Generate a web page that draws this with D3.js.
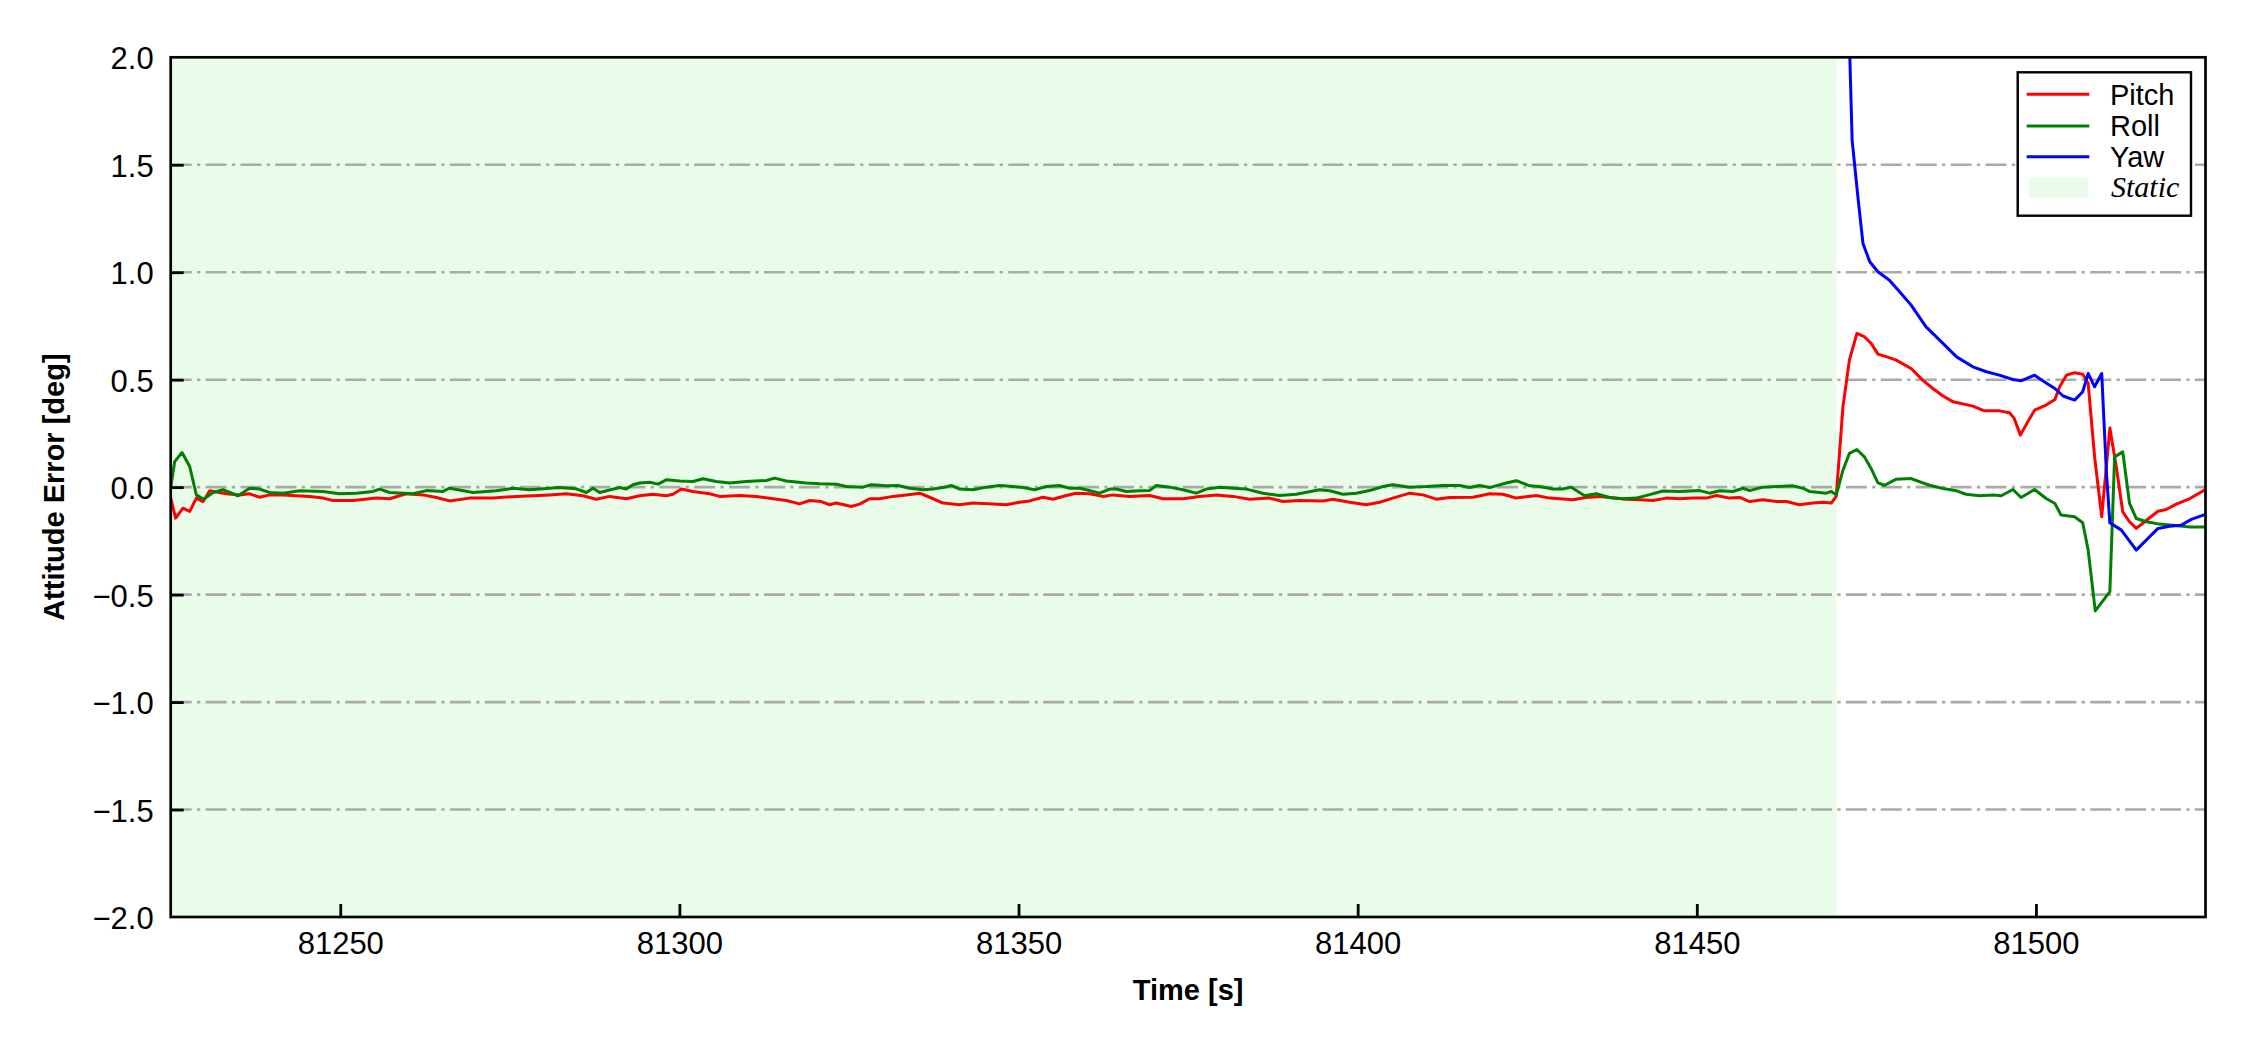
<!DOCTYPE html>
<html>
<head>
<meta charset="utf-8">
<script src="https://d3js.org/d3.v7.min.js"></script>
<style>
  body { margin: 0; background: #fff; }
  svg { display: block; }
</style>
</head>
<body>
<div id="chart"></div>
<script>
// time axis / value axis
var xDomain = [81225, 81525];
var yDomain = [-2, 2];
var xTicks = [81250, 81300, 81350, 81400, 81450, 81500];
var yTicks = [-2.0, -1.5, -1.0, -0.5, 0.0, 0.5, 1.0, 1.5, 2.0];
var gridValues = [-1.5, -1.0, -0.5, 0.0, 0.5, 1.0, 1.5];
var staticSpan = [81225, 81470.6];

var seriesNames = ["Pitch", "Roll", "Yaw"];
var seriesColors = ["#ff0000", "#008000", "#0000ff"];

// [time s, error deg]
var pitchData = [
  [81225.0,-0.051],[81225.73,-0.144],[81226.81,-0.098],[81227.8,-0.113],[81228.78,-0.051],[81229.76,-0.068],
  [81230.75,-0.017],[81233.2,-0.031],[81235.17,-0.036],[81236.64,-0.031],[81238.12,-0.047],[81239.59,-0.036],
  [81241.56,-0.036],[81243.52,-0.040],[81245.49,-0.043],[81247.45,-0.051],[81248.93,-0.062],[81251.88,-0.062],
  [81255.32,-0.051],[81257.28,-0.054],[81259.74,-0.031],[81262.19,-0.036],[81264.16,-0.048],[81266.13,-0.064],
  [81269.07,-0.051],[81272.51,-0.051],[81275.95,-0.043],[81280.87,-0.036],[81283.33,-0.031],[81285.78,-0.040],
  [81287.75,-0.056],[81289.71,-0.043],[81292.17,-0.054],[81294.14,-0.040],[81296.1,-0.033],[81298.07,-0.040],
  [81299.05,-0.033],[81300.28,-0.009],[81302.0,-0.020],[81304.46,-0.031],[81305.93,-0.043],[81308.88,-0.039],
  [81311.34,-0.043],[81313.8,-0.054],[81315.76,-0.062],[81317.73,-0.078],[81319.2,-0.062],[81320.92,-0.067],
  [81322.15,-0.082],[81323.13,-0.074],[81325.34,-0.090],[81326.57,-0.079],[81328.05,-0.054],[81329.52,-0.054],
  [81331.49,-0.043],[81333.45,-0.036],[81335.42,-0.028],[81336.89,-0.047],[81338.86,-0.074],[81341.31,-0.082],
  [81343.28,-0.074],[81346.23,-0.078],[81348.19,-0.082],[81350.16,-0.070],[81351.63,-0.064],[81353.6,-0.047],
  [81355.07,-0.056],[81357.04,-0.039],[81358.51,-0.028],[81360.48,-0.031],[81362.44,-0.043],[81363.92,-0.036],
  [81366.38,-0.043],[81369.32,-0.039],[81371.3,-0.054],[81374.24,-0.054],[81376.7,-0.043],[81379.16,-0.036],
  [81381.61,-0.043],[81384.07,-0.056],[81387.02,-0.051],[81388.99,-0.067],[81391.44,-0.062],[81394.88,-0.064],
  [81396.36,-0.056],[81398.81,-0.070],[81401.27,-0.082],[81403.24,-0.070],[81405.2,-0.051],[81407.66,-0.028],
  [81409.62,-0.036],[81411.59,-0.056],[81413.55,-0.048],[81417.0,-0.047],[81419.45,-0.031],[81421.42,-0.033],
  [81423.38,-0.051],[81426.33,-0.039],[81428.3,-0.051],[81431.74,-0.059],[81433.7,-0.048],[81435.67,-0.043],
  [81439.6,-0.056],[81441.57,-0.059],[81443.54,-0.062],[81445.5,-0.051],[81447.47,-0.054],[81449.43,-0.051],
  [81451.4,-0.051],[81452.87,-0.039],[81454.84,-0.051],[81456.31,-0.048],[81457.79,-0.067],[81459.75,-0.059],
  [81461.72,-0.067],[81463.19,-0.067],[81465.16,-0.082],[81467.12,-0.074],[81468.6,-0.070],[81469.83,-0.074],
  [81470.56,-0.043],[81471.55,0.374],[81472.5,0.591],[81473.6,0.715],[81474.7,0.700],[81475.7,0.669],
  [81476.7,0.619],[81477.9,0.607],[81479.4,0.591],[81481.6,0.552],[81483.3,0.498],[81484.8,0.459],
  [81486.3,0.424],[81487.8,0.397],[81490.7,0.377],[81492.4,0.355],[81494.6,0.355],[81496.1,0.346],
  [81496.8,0.320],[81497.7,0.242],[81498.8,0.304],[81499.8,0.358],[81501.5,0.382],[81502.8,0.408],
  [81503.5,0.467],[81504.5,0.521],[81505.7,0.532],[81506.9,0.525],[81507.7,0.483],[81508.65,0.141],
  [81509.7,-0.138],[81510.9,0.275],[81511.85,0.095],[81512.8,-0.115],[81513.8,-0.161],[81514.8,-0.192],
  [81516.3,-0.154],[81518.0,-0.112],[81519.2,-0.104],[81520.7,-0.079],[81522.7,-0.053],[81525.0,-0.011]
];

var rollData = [
  [81225.0,0.0],[81225.59,0.119],[81226.67,0.161],[81227.8,0.096],[81228.78,-0.036],[81229.86,-0.056],
  [81231.24,-0.025],[81232.71,-0.012],[81234.92,-0.040],[81236.64,-0.005],[81238.12,-0.009],[81239.59,-0.025],
  [81241.56,-0.028],[81244.01,-0.017],[81247.45,-0.020],[81249.91,-0.031],[81252.37,-0.028],[81254.82,-0.020],
  [81255.81,-0.009],[81257.28,-0.025],[81260.72,-0.031],[81262.69,-0.016],[81265.14,-0.020],[81266.13,-0.005],
  [81269.57,-0.025],[81273.01,-0.017],[81275.46,-0.005],[81277.92,-0.012],[81282.34,-0.002],[81284.8,-0.008],
  [81286.27,-0.025],[81287.26,-0.005],[81288.24,-0.025],[81291.19,-0.002],[81292.17,-0.009],[81293.15,0.011],
  [81294.14,0.019],[81295.61,0.023],[81296.84,0.014],[81298.07,0.034],[81300.04,0.029],[81302.0,0.026],
  [81303.48,0.039],[81305.44,0.026],[81307.41,0.019],[81309.87,0.026],[81312.81,0.031],[81314.04,0.042],
  [81315.76,0.029],[81318.71,0.019],[81320.68,0.016],[81323.13,0.014],[81324.61,0.003],[81327.06,0.0],
  [81328.29,0.011],[81330.5,0.006],[81332.22,0.008],[81333.94,-0.005],[81335.91,-0.012],[81337.38,-0.009],
  [81338.86,-0.002],[81340.09,0.008],[81341.31,-0.009],[81343.28,-0.012],[81345.25,0.0],[81347.21,0.008],
  [81349.18,0.003],[81350.65,-0.002],[81352.37,-0.012],[81354.09,0.003],[81356.06,0.008],[81357.53,-0.005],
  [81359.0,-0.005],[81359.99,-0.012],[81361.95,-0.028],[81363.43,-0.009],[81364.41,-0.009],[81365.88,-0.020],
  [81367.85,-0.017],[81369.32,-0.016],[81370.31,0.008],[81372.28,0.0],[81374.24,-0.012],[81376.21,-0.028],
  [81377.68,-0.009],[81379.65,0.0],[81381.61,-0.005],[81383.58,-0.009],[81386.04,-0.028],[81388.49,-0.039],
  [81390.95,-0.033],[81394.39,-0.012],[81395.87,-0.017],[81397.83,-0.033],[81399.8,-0.028],[81401.76,-0.016],
  [81403.73,0.003],[81405.2,0.011],[81407.66,0.0],[81410.12,0.003],[81412.57,0.008],[81415.03,0.008],
  [81416.5,-0.002],[81417.98,0.008],[81419.45,-0.002],[81421.91,0.019],[81423.38,0.030],[81425.35,0.006],
  [81426.82,0.003],[81428.79,-0.009],[81430.26,-0.009],[81431.49,0.0],[81433.46,-0.040],[81435.18,-0.031],
  [81437.14,-0.048],[81439.11,-0.054],[81441.08,-0.051],[81443.04,-0.035],[81445.0,-0.018],[81447.47,-0.020],
  [81450.42,-0.016],[81451.89,-0.028],[81453.36,-0.017],[81455.33,-0.020],[81456.8,-0.005],[81457.79,-0.016],
  [81459.75,0.0],[81461.72,0.003],[81464.17,0.006],[81465.65,-0.005],[81466.63,-0.020],[81468.1,-0.025],
  [81469.09,-0.028],[81469.83,-0.020],[81470.56,-0.036],[81471.55,0.079],[81472.5,0.157],[81473.6,0.175],
  [81474.7,0.141],[81475.7,0.087],[81476.7,0.020],[81477.7,0.009],[81479.4,0.037],[81481.6,0.040],
  [81484.3,0.009],[81486.3,-0.006],[81488.3,-0.017],[81489.7,-0.033],[81491.7,-0.040],[81493.7,-0.037],
  [81494.9,-0.040],[81496.6,-0.011],[81497.8,-0.048],[81499.8,-0.011],[81501.5,-0.053],[81502.8,-0.076],
  [81503.7,-0.130],[81505.7,-0.138],[81506.9,-0.166],[81507.7,-0.293],[81508.75,-0.576],[81510.9,-0.486],
  [81511.6,0.141],[81512.8,0.164],[81513.8,-0.076],[81514.8,-0.146],[81516.3,-0.161],[81518.2,-0.172],
  [81520.2,-0.177],[81522.7,-0.185],[81525.0,-0.185]
];

var yawData = [
  [81472.3,2.300],[81472.9,1.615],[81473.8,1.336],[81474.5,1.134],[81475.5,1.049],[81476.7,1.002],
  [81478.4,0.963],[81479.9,0.909],[81481.6,0.847],[81483.8,0.746],[81485.8,0.684],[81488.3,0.606],
  [81490.7,0.560],[81492.7,0.537],[81494.6,0.521],[81496.6,0.501],[81497.8,0.495],[81499.8,0.521],
  [81501.5,0.485],[81502.8,0.459],[81504.0,0.424],[81505.7,0.405],[81506.9,0.444],[81507.7,0.529],
  [81508.65,0.467],[81509.7,0.529],[81510.4,0.064],[81510.9,-0.166],[81512.6,-0.200],[81514.8,-0.293],
  [81516.5,-0.239],[81518.0,-0.192],[81519.7,-0.182],[81521.4,-0.177],[81522.9,-0.150],[81525.0,-0.127]
];

var width = 2250, height = 1050;
var margin = { top: 57.3, right: 44.5, bottom: 133, left: 170.7 };
var fontSans = "'Liberation Sans', Arial, sans-serif";

var svg = d3.select("#chart").append("svg")
  .attr("width", width).attr("height", height);

var xScale = d3.scaleLinear().domain(xDomain)
  .range([margin.left, width - margin.right]);
var yScale = d3.scaleLinear().domain(yDomain)
  .range([height - margin.bottom, margin.top]);

svg.append("defs").append("clipPath").attr("id", "plotclip")
  .append("rect")
  .attr("x", margin.left).attr("y", margin.top)
  .attr("width", width - margin.left - margin.right)
  .attr("height", height - margin.top - margin.bottom);

// static period shading
svg.append("rect")
  .attr("x", xScale(staticSpan[0]))
  .attr("y", margin.top)
  .attr("width", xScale(staticSpan[1]) - xScale(staticSpan[0]))
  .attr("height", height - margin.top - margin.bottom)
  .attr("fill", "rgb(233,252,233)");

// horizontal grid
svg.append("g").selectAll("line")
  .data(gridValues).enter().append("line")
  .attr("x1", margin.left).attr("x2", width - margin.right)
  .attr("y1", function(d){ return yScale(d); })
  .attr("y2", function(d){ return yScale(d); })
  .attr("stroke", "#aaaaaa")
  .attr("stroke-width", 2.6)
  .attr("stroke-dasharray", "21,5.3,3.3,5.3");

// lines
var line = d3.line()
  .x(function(d){ return xScale(d[0]); })
  .y(function(d){ return yScale(d[1]); });

var lineGroup = svg.append("g").attr("clip-path", "url(#plotclip)");
[pitchData, rollData, yawData].forEach(function(data, i){
  lineGroup.append("path")
    .datum(data)
    .attr("fill", "none")
    .attr("stroke", seriesColors[i])
    .attr("stroke-width", 3)
    .attr("stroke-linejoin", "round")
    .attr("d", line);
});

// axes (ticks pointing inward)
var axisx = d3.axisBottom(xScale).tickValues(xTicks)
  .tickFormat(d3.format("d")).tickSizeInner(-13).tickSizeOuter(0).tickPadding(15);
var axisy = d3.axisLeft(yScale).tickValues(yTicks)
  .tickFormat(d3.format(".1f")).tickSizeInner(-13).tickSizeOuter(0).tickPadding(17);

var gx = svg.append("g")
  .attr("transform", "translate(0," + (height - margin.bottom) + ")")
  .call(axisx);
var gy = svg.append("g")
  .attr("transform", "translate(" + margin.left + ",0)")
  .call(axisy);

[gx, gy].forEach(function(g){
  g.select(".domain").remove();
  g.selectAll(".tick line").attr("stroke", "#000").attr("stroke-width", 2.8);
  g.selectAll(".tick text")
    .attr("fill", "#000")
    .style("font-family", fontSans)
    .style("font-size", "31px");
});
gy.selectAll(".tick text").attr("dy", "0.37em");
gy.selectAll(".tick").filter(function(d){ return d === 2 || d === -2; })
  .select("line").remove();

// frame
svg.append("rect")
  .attr("x", margin.left).attr("y", margin.top)
  .attr("width", width - margin.left - margin.right)
  .attr("height", height - margin.top - margin.bottom)
  .attr("fill", "none")
  .attr("stroke", "#000")
  .attr("stroke-width", 2.7);

// axis titles
svg.append("text")
  .attr("x", (margin.left + width - margin.right) / 2)
  .attr("y", 1000)
  .attr("text-anchor", "middle")
  .style("font-family", fontSans)
  .style("font-weight", "bold")
  .style("font-size", "29px")
  .text("Time [s]");

svg.append("text")
  .attr("transform", "translate(64," + ((margin.top + height - margin.bottom) / 2) + ") rotate(-90)")
  .attr("text-anchor", "middle")
  .style("font-family", fontSans)
  .style("font-weight", "bold")
  .style("font-size", "29px")
  .text("Attitude Error [deg]");

// legend
var legend = svg.append("g");
legend.append("rect")
  .attr("x", 2017.7).attr("y", 72.3)
  .attr("width", 173.3).attr("height", 143.4)
  .attr("fill", "#fff")
  .attr("stroke", "#000")
  .attr("stroke-width", 2.4);

var rowY = [94.3, 126, 156.7];
seriesNames.forEach(function(name, i){
  legend.append("line")
    .attr("x1", 2026.7).attr("x2", 2089.3)
    .attr("y1", rowY[i]).attr("y2", rowY[i])
    .attr("stroke", seriesColors[i])
    .attr("stroke-width", 3);
  legend.append("text")
    .attr("x", 2110).attr("y", rowY[i] + 10.3)
    .style("font-family", fontSans)
    .style("font-size", "29px")
    .text(name);
});
legend.append("rect")
  .attr("x", 2029).attr("y", 177.7)
  .attr("width", 58.7).attr("height", 20)
  .attr("fill", "rgb(233,252,233)");
legend.append("text")
  .attr("x", 2111).attr("y", 196.7)
  .style("font-family", "'Liberation Serif', 'Times New Roman', serif")
  .style("font-style", "italic")
  .style("font-size", "30px")
  .text("Static");
</script>
</body>
</html>
